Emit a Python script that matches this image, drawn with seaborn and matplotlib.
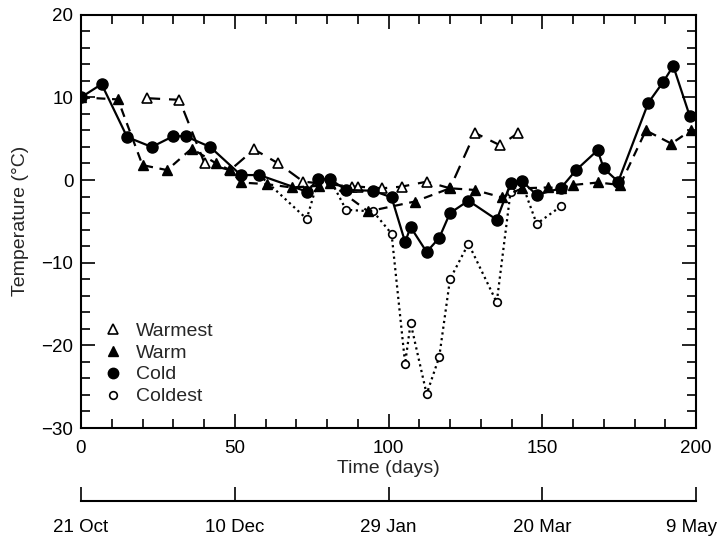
import matplotlib
matplotlib.use("Agg")
import matplotlib.pyplot as plt
from matplotlib.lines import Line2D
from matplotlib.ticker import MultipleLocator
from matplotlib.transforms import ScaledTranslation
import seaborn as sns
import pandas as pd

sns.set_theme(style="white")
plt.rcParams['font.family'] = ['Liberation Sans', 'DejaVu Sans']

# ---- data ----
cold_day = [0, 6.7, 15, 23, 30, 34, 42, 52, 58, 73.4, 77.2, 81, 86.2, 95, 101,
            105.4, 107.2, 112.4, 116.5, 120, 126, 135.2, 139.7, 143.3, 148.2,
            156, 161, 168, 170, 174.7, 184.5, 189.4, 192.6, 198]
cold_val = [10.0, 11.6, 5.2, 4.0, 5.3, 5.3, 4.0, 0.6, 0.6, -1.4, 0.1, 0.1, -1.2,
            -1.3, -2.1, -7.5, -5.7, -8.7, -7.0, -4.0, -2.5, -4.8, -0.4, -0.1,
            -1.8, -1.0, 1.2, 3.6, 1.4, -0.2, 9.35, 11.9, 13.8, 7.7]

warm_day = [0, 12, 20, 28, 36, 44, 48.5, 52, 60.4, 68.5, 77.5, 81, 93.4,
            108.6, 120, 128, 136.8, 143.5, 152, 156, 160, 168.2, 175.3, 183.7,
            192, 198.3]
warm_val = [10.0, 9.75, 1.8, 1.2, 3.8, 2.0, 1.2, -0.3, -0.5, -0.9, -0.7, -0.4,
            -3.8, -2.6, -1.0, -1.2, -2.1, -1.0, -0.9, -1.0, -0.6, -0.3,
            -0.6, 6.0, 4.4, 6.0]

warmest_day = [21.4, 32, 40.2, 48.5, 56.3, 64.2, 72.3, 88, 90, 98, 104.3,
               112.4, 120, 128.1, 136.3, 142.2]
warmest_val = [9.9, 9.7, 2.0, 1.2, 3.7, 2.0, -0.2, -0.8, -0.8, -1.0, -0.8,
               -0.2, -1.0, 5.7, 4.2, 5.7]

coldest_day = [58, 73.4, 77.2, 81, 86.2, 95, 101, 105.4, 107.2, 112.4, 116.5,
               120, 126, 135.2, 139.7, 143.3, 148.2, 156]
coldest_val = [0.6, -4.7, 0.1, 0.1, -3.6, -3.8, -6.5, -22.2, -17.3, -25.9,
               -21.4, -12.0, -7.7, -14.8, -1.4, -0.3, -5.3, -3.2]

series_names = ["Warmest", "Warm", "Cold", "Coldest"]
x_ticks = [0, 50, 100, 150, 200]
y_ticks = [-30, -20, -10, 0, 10, 20]
y_tick_labels = ["\u221230", "\u221220", "\u221210", "0", "10", "20"]
date_labels = ["21 Oct", "10 Dec", "29 Jan", "20 Mar", "9 May"]

# ---- figure ----
W, H = 721, 548
fig = plt.figure(figsize=(W / 100, H / 100), dpi=100)
ax = fig.add_axes([81 / W, 1 - 428 / H, (696 - 81) / W, (428 - 14.7) / H])

k = dict(color="black", ax=ax, legend=False, sort=False)
sns.lineplot(x=coldest_day, y=coldest_val, linestyle=(0, (1, 1.6)), lw=1.6,
             marker="o", ms=5.5, mfc="white", mec="black", mew=1.2, **k)
sns.lineplot(x=warmest_day, y=warmest_val, linestyle=(0, (6, 4)), lw=1.6,
             marker="^", ms=7.5, mfc="white", mec="black", mew=1.2, **k)
sns.lineplot(x=warm_day, y=warm_val, linestyle=(0, (4, 3)), lw=1.6,
             marker="^", ms=7.5, mfc="black", mec="black", mew=1.0, **k)
sns.lineplot(x=cold_day, y=cold_val, linestyle="-", lw=1.6,
             marker="o", ms=8, mfc="black", mec="black", mew=1.0, **k)

ax.set_xlim(0, 200)
ax.set_ylim(-30, 20)
ax.set_xticks(x_ticks)
ax.set_yticks(y_ticks)
ax.xaxis.set_minor_locator(MultipleLocator(10))
ax.yaxis.set_minor_locator(MultipleLocator(2))
ax.set_yticklabels(y_tick_labels)
ax.tick_params(which="both", direction="in", top=True, right=True,
               bottom=True, left=True, labelsize=13.5, colors="black", width=1.2)
ax.tick_params(axis="x", which="major", pad=8.5)
ax.tick_params(axis="y", which="major", pad=5.5)
ax.tick_params(which="major", length=10)
ax.tick_params(which="minor", length=6.5)
for s in ax.spines.values():
    s.set_linewidth(1.5)
    s.set_color("black")
ax.set_xlabel("Time (days)", fontsize=14, labelpad=2)
ax.set_ylabel("Temperature (\u00b0C)", fontsize=14, labelpad=9)

handles = [
    Line2D([], [], ls="none", marker="^", ms=7, mfc="white", mec="black", mew=1.2),
    Line2D([], [], ls="none", marker="^", ms=7, mfc="black", mec="black"),
    Line2D([], [], ls="none", marker="o", ms=7.5, mfc="black", mec="black"),
    Line2D([], [], ls="none", marker="o", ms=5.5, mfc="white", mec="black", mew=1.2),
]
ax.legend(handles, series_names, loc="lower left", bbox_to_anchor=(0.023, 0.036),
          frameon=False, fontsize=14, handletextpad=0.7, labelspacing=0.22,
          handlelength=1.0, borderaxespad=0)

# ---- secondary date axis ----
ax2 = fig.add_axes([81 / W, 1 - 501 / H, (696 - 81) / W, 0.001])
ax2.set_xlim(0, 200)
ax2.set_yticks([])
ax2.set_xticks(x_ticks)
ax2.set_xticklabels(date_labels)
for side in ["top", "left", "right"]:
    ax2.spines[side].set_visible(False)
ax2.spines["bottom"].set_linewidth(1.5)
ax2.spines["bottom"].set_color("black")
ax2.patch.set_visible(False)
ax2.tick_params(axis="x", direction="in", bottom=True, top=False, length=10,
                width=1.2, labelsize=13.5, colors="black", pad=13)
last = ax2.get_xticklabels()[-1]
last.set_transform(last.get_transform() + ScaledTranslation(-4 / 100, 0, fig.dpi_scale_trans))

fig.savefig("out.png", dpi=100)
